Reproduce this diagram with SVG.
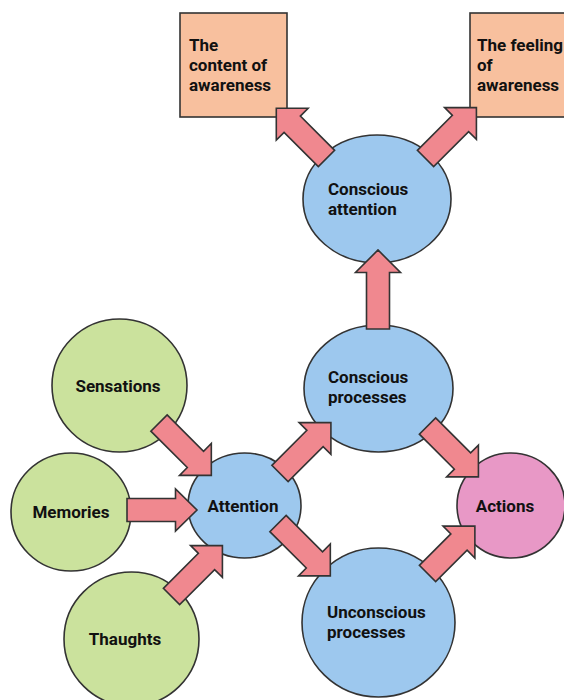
<svg xmlns="http://www.w3.org/2000/svg" width="564" height="700" viewBox="0 0 564 700">
  <style>
    .node { stroke: #333; stroke-width: 1.6; }
    .box { fill: #f8c09e; }
    .blue { fill: #9dc8ee; }
    .green { fill: #cbe29d; }
    .pink { fill: #e898c6; }
    .arrow { fill: #f0888f; stroke: #333; stroke-width: 1.6; stroke-linejoin: miter; }
    text { font-family: Roboto, "Liberation Sans", Arial, sans-serif; font-weight: bold; font-size: 17px; fill: #111; }
    .mid { text-anchor: middle; }
  </style>

  <!-- output boxes -->
  <g id="content-of-awareness">
    <rect class="node box" x="180" y="13" width="107" height="104"/>
    <text x="189" y="51">The</text>
    <text x="189" y="71">content of</text>
    <text x="189" y="91">awareness</text>
  </g>
  <g id="feeling-of-awareness">
    <rect class="node box" x="470" y="13" width="110" height="104"/>
    <text x="477" y="51">The feeling</text>
    <text x="477" y="71">of</text>
    <text x="477" y="91">awareness</text>
  </g>

  <!-- process nodes -->
  <g id="conscious-attention">
    <ellipse class="node blue" cx="377" cy="199" rx="74" ry="64"/>
    <text x="328" y="195">Conscious</text>
    <text x="328" y="215">attention</text>
  </g>
  <g id="conscious-processes">
    <ellipse class="node blue" cx="378.5" cy="388.5" rx="74.5" ry="63.5"/>
    <text x="328" y="383">Conscious</text>
    <text x="328" y="403">processes</text>
  </g>
  <g id="unconscious-processes">
    <ellipse class="node blue" cx="378.5" cy="622.5" rx="76.5" ry="74.5"/>
    <text x="327" y="618">Unconscious</text>
    <text x="327" y="638">processes</text>
  </g>
  <g id="attention">
    <ellipse class="node blue" cx="244.5" cy="505.5" rx="56.5" ry="52.5"/>
    <text class="mid" x="243" y="512">Attention</text>
  </g>
  <g id="actions">
    <ellipse class="node pink" cx="511" cy="505.5" rx="54" ry="52.5"/>
    <text class="mid" x="505" y="512">Actions</text>
  </g>

  <!-- input nodes -->
  <g id="sensations">
    <ellipse class="node green" cx="119.5" cy="385.5" rx="67.5" ry="66.5"/>
    <text class="mid" x="118" y="392">Sensations</text>
  </g>
  <g id="memories">
    <ellipse class="node green" cx="71" cy="512" rx="60" ry="59"/>
    <text class="mid" x="71" y="518">Memories</text>
  </g>
  <g id="thaughts">
    <ellipse class="node green" cx="131.5" cy="639" rx="67.5" ry="67"/>
    <text class="mid" x="125" y="645">Thaughts</text>
  </g>

  <!-- block arrows: drawn along +x from tail (0,0) to tip (L,0), then placed -->
  <g id="connectors">
    <path class="arrow" transform="translate(326.5,158.5) rotate(-135)" d="M0,-11.5 H48.5 V-22.5 L71,0 L48.5,22.5 V11.5 H0 Z"/>
    <path class="arrow" transform="translate(425.5,158.5) rotate(-45)" d="M0,-11.5 H49.5 V-22.5 L72,0 L49.5,22.5 V11.5 H0 Z"/>
    <path class="arrow" transform="translate(378,329) rotate(-90)" d="M0,-11.5 H56.5 V-22.5 L79,0 L56.5,22.5 V11.5 H0 Z"/>
    <path class="arrow" transform="translate(159,423) rotate(45)" d="M0,-11.5 H51.5 V-22.5 L74,0 L51.5,22.5 V11.5 H0 Z"/>
    <path class="arrow" transform="translate(127,510)" d="M0,-11.5 H48.5 V-21 L70,0 L48.5,21 V11.5 H0 Z"/>
    <path class="arrow" transform="translate(171.5,596.5) rotate(-45)" d="M0,-11.5 H49.5 V-22.5 L72,0 L49.5,22.5 V11.5 H0 Z"/>
    <path class="arrow" transform="translate(280,473.5) rotate(-45)" d="M0,-11.5 H49.5 V-22.5 L72,0 L49.5,22.5 V11.5 H0 Z"/>
    <path class="arrow" transform="translate(278,523.5) rotate(45)" d="M0,-11.5 H51.5 V-22.5 L74,0 L51.5,22.5 V11.5 H0 Z"/>
    <path class="arrow" transform="translate(427.5,426) rotate(45)" d="M0,-11.5 H49.5 V-22.5 L72,0 L49.5,22.5 V11.5 H0 Z"/>
    <path class="arrow" transform="translate(427.5,573.5) rotate(-45)" d="M0,-11.5 H44.5 V-22.5 L67,0 L44.5,22.5 V11.5 H0 Z"/>
  </g>
</svg>
